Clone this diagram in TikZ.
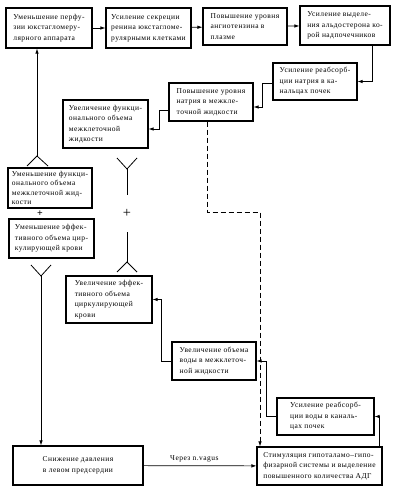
\documentclass[tikz,border=0pt]{standalone}
\usepackage{fontspec}
\setmainfont{Liberation Serif}[LetterSpace=6]
\usetikzlibrary{arrows.meta}

\begin{document}
\begin{tikzpicture}[x=1pt,y=-1pt,
    box/.style={draw=black,line width=1.1pt,align=left,inner sep=3pt,
      font=\fontsize{7.5}{10.5}\selectfont},
    link/.style={line width=0.7pt,-{Latex[length=5pt,width=3.5pt]}},
    fork/.style={line width=0.8pt}]
  \useasboundingbox (0,0) rectangle (400,497);
  % top row
  \node[box,minimum width=86pt,minimum height=40pt] (perf) at (49,28)
    {Уменьшение перфу-\\зии юкстагломеру-\\лярного аппарата};
  \node[box,minimum width=85pt,minimum height=40pt] (renin) at (148.5,28)
    {Усиление секреции\\ренина юкстагломе-\\рулярными клетками};
  \node[box,minimum width=84pt,minimum height=37pt] (angio) at (245,26.5)
    {Повышение уровня\\ангиотензина в\\плазме};
  \node[box,minimum width=90pt,minimum height=39pt] (aldo) at (345,25.5)
    {Усиление выделе-\\ния альдостерона ко-\\рой надпочечников};
  % sodium steps
  \node[box,minimum width=84pt,minimum height=37pt] (natreab) at (315,81.5)
    {Усиление реабсорб-\\ции натрия в ка-\\нальцах почек};
  \node[box,minimum width=84pt,minimum height=38pt] (natlev) at (211,102)
    {Повышение уровня\\натрия в межкле-\\точной жидкости};
  \node[box,minimum width=85pt,minimum height=48pt] (funcup) at (105.5,124)
    {Увеличение функци-\\онального объема\\межклеточной\\жидкости};
  % left column
  \node[box,inner sep=1.5pt,minimum width=84pt,minimum height=40pt,
    font=\fontsize{7.5}{9.2}\selectfont] (funcdown) at (50,188)
    {Уменьшение функци-\\онального объема\\межклеточной жид-\\кости};
  \node[box,minimum width=85pt,minimum height=39pt] (effdown) at (51.5,238.5)
    {Уменьшение эффек-\\тивного объема цир-\\кулирующей крови};
  \node[font=\bfseries] (plusl) at (40,213.5) {+};
  % middle column
  \node[box,minimum width=86pt,minimum height=47pt] (effup) at (109,299.5)
    {Увеличение эффек-\\тивного объема\\циркулирующей\\крови};
  \node[box,minimum width=84pt,minimum height=38pt] (waterup) at (214,361)
    {Увеличение объема\\воды в межклеточ-\\ной жидкости};
  \node[box,minimum width=97pt,minimum height=37pt] (waterreab) at (325.5,416.5)
    {Усиление реабсорб-\\ции воды в каналь-\\цах почек};
  \node[font=\Large] (plusm) at (127,213) {+};
  % bottom row
  \node[box,align=center,minimum width=130pt,minimum height=39pt] (press) at (78,465.5)
    {Снижение давления\\в левом предсердии};
  \node[box,minimum width=125pt,minimum height=38pt] (adh) at (319.5,466)
    {Стимуляция гипоталамо–гипо-\\физарной системы и выделение\\повышенного количества АДГ};

  % forks
  \coordinate (jl) at (37,156);
  \coordinate (jb) at (41,276);
  \coordinate (jm) at (127,169);
  \coordinate (jn) at (127,262);
  \draw[fork] (27,166) -- (jl) -- (48,166);
  \draw[fork] (31,265) -- (jb) -- (51,265);
  \draw[fork] (117,158) -- (jm) -- (137,158);
  \draw[fork] (jm) -- (127,195);
  \draw[fork] (117,272) -- (jn) -- (137,272);
  \draw[fork] (jn) -- (127,232);

  % arrows
  \draw[link] (perf) -- (renin);
  \draw[link] (renin) -- (angio);
  \draw[link] (angio) -- (aldo);
  \draw[link] ([xshift=27pt]aldo.south) |- (natreab.east);
  \draw[link] ([yshift=-1.5pt]natreab.west) -- ++(-10,0) |- ([yshift=-5pt]natlev.east);
  \draw[link] ([yshift=-8pt]natlev.west) -- ++(-9,0) |- ([yshift=-5pt]funcup.east);
  \draw[link] (jl) -- (jl |- perf.south);
  \draw[link] (jb) -- (jb |- press.north);
  \draw[link] (waterup.west) -- ++(-10,0) |- (effup.east);
  \draw[link] (waterreab.west) -- ++(-10,0) |- (waterup.east);
  \draw[link] ([xshift=60pt]adh.north) |- (waterreab.east);
  \draw[link] (press) -- node[above,pos=0.45,font=\fontsize{7.5}{9}\selectfont] {Через n.vagus} (adh);
  \coordinate (dj) at (260,212);
  \draw[link,dash pattern=on 5pt off 3pt] ([xshift=-4pt]natlev.south) |- (dj) -- (dj |- adh.north);
\end{tikzpicture}
\end{document}
